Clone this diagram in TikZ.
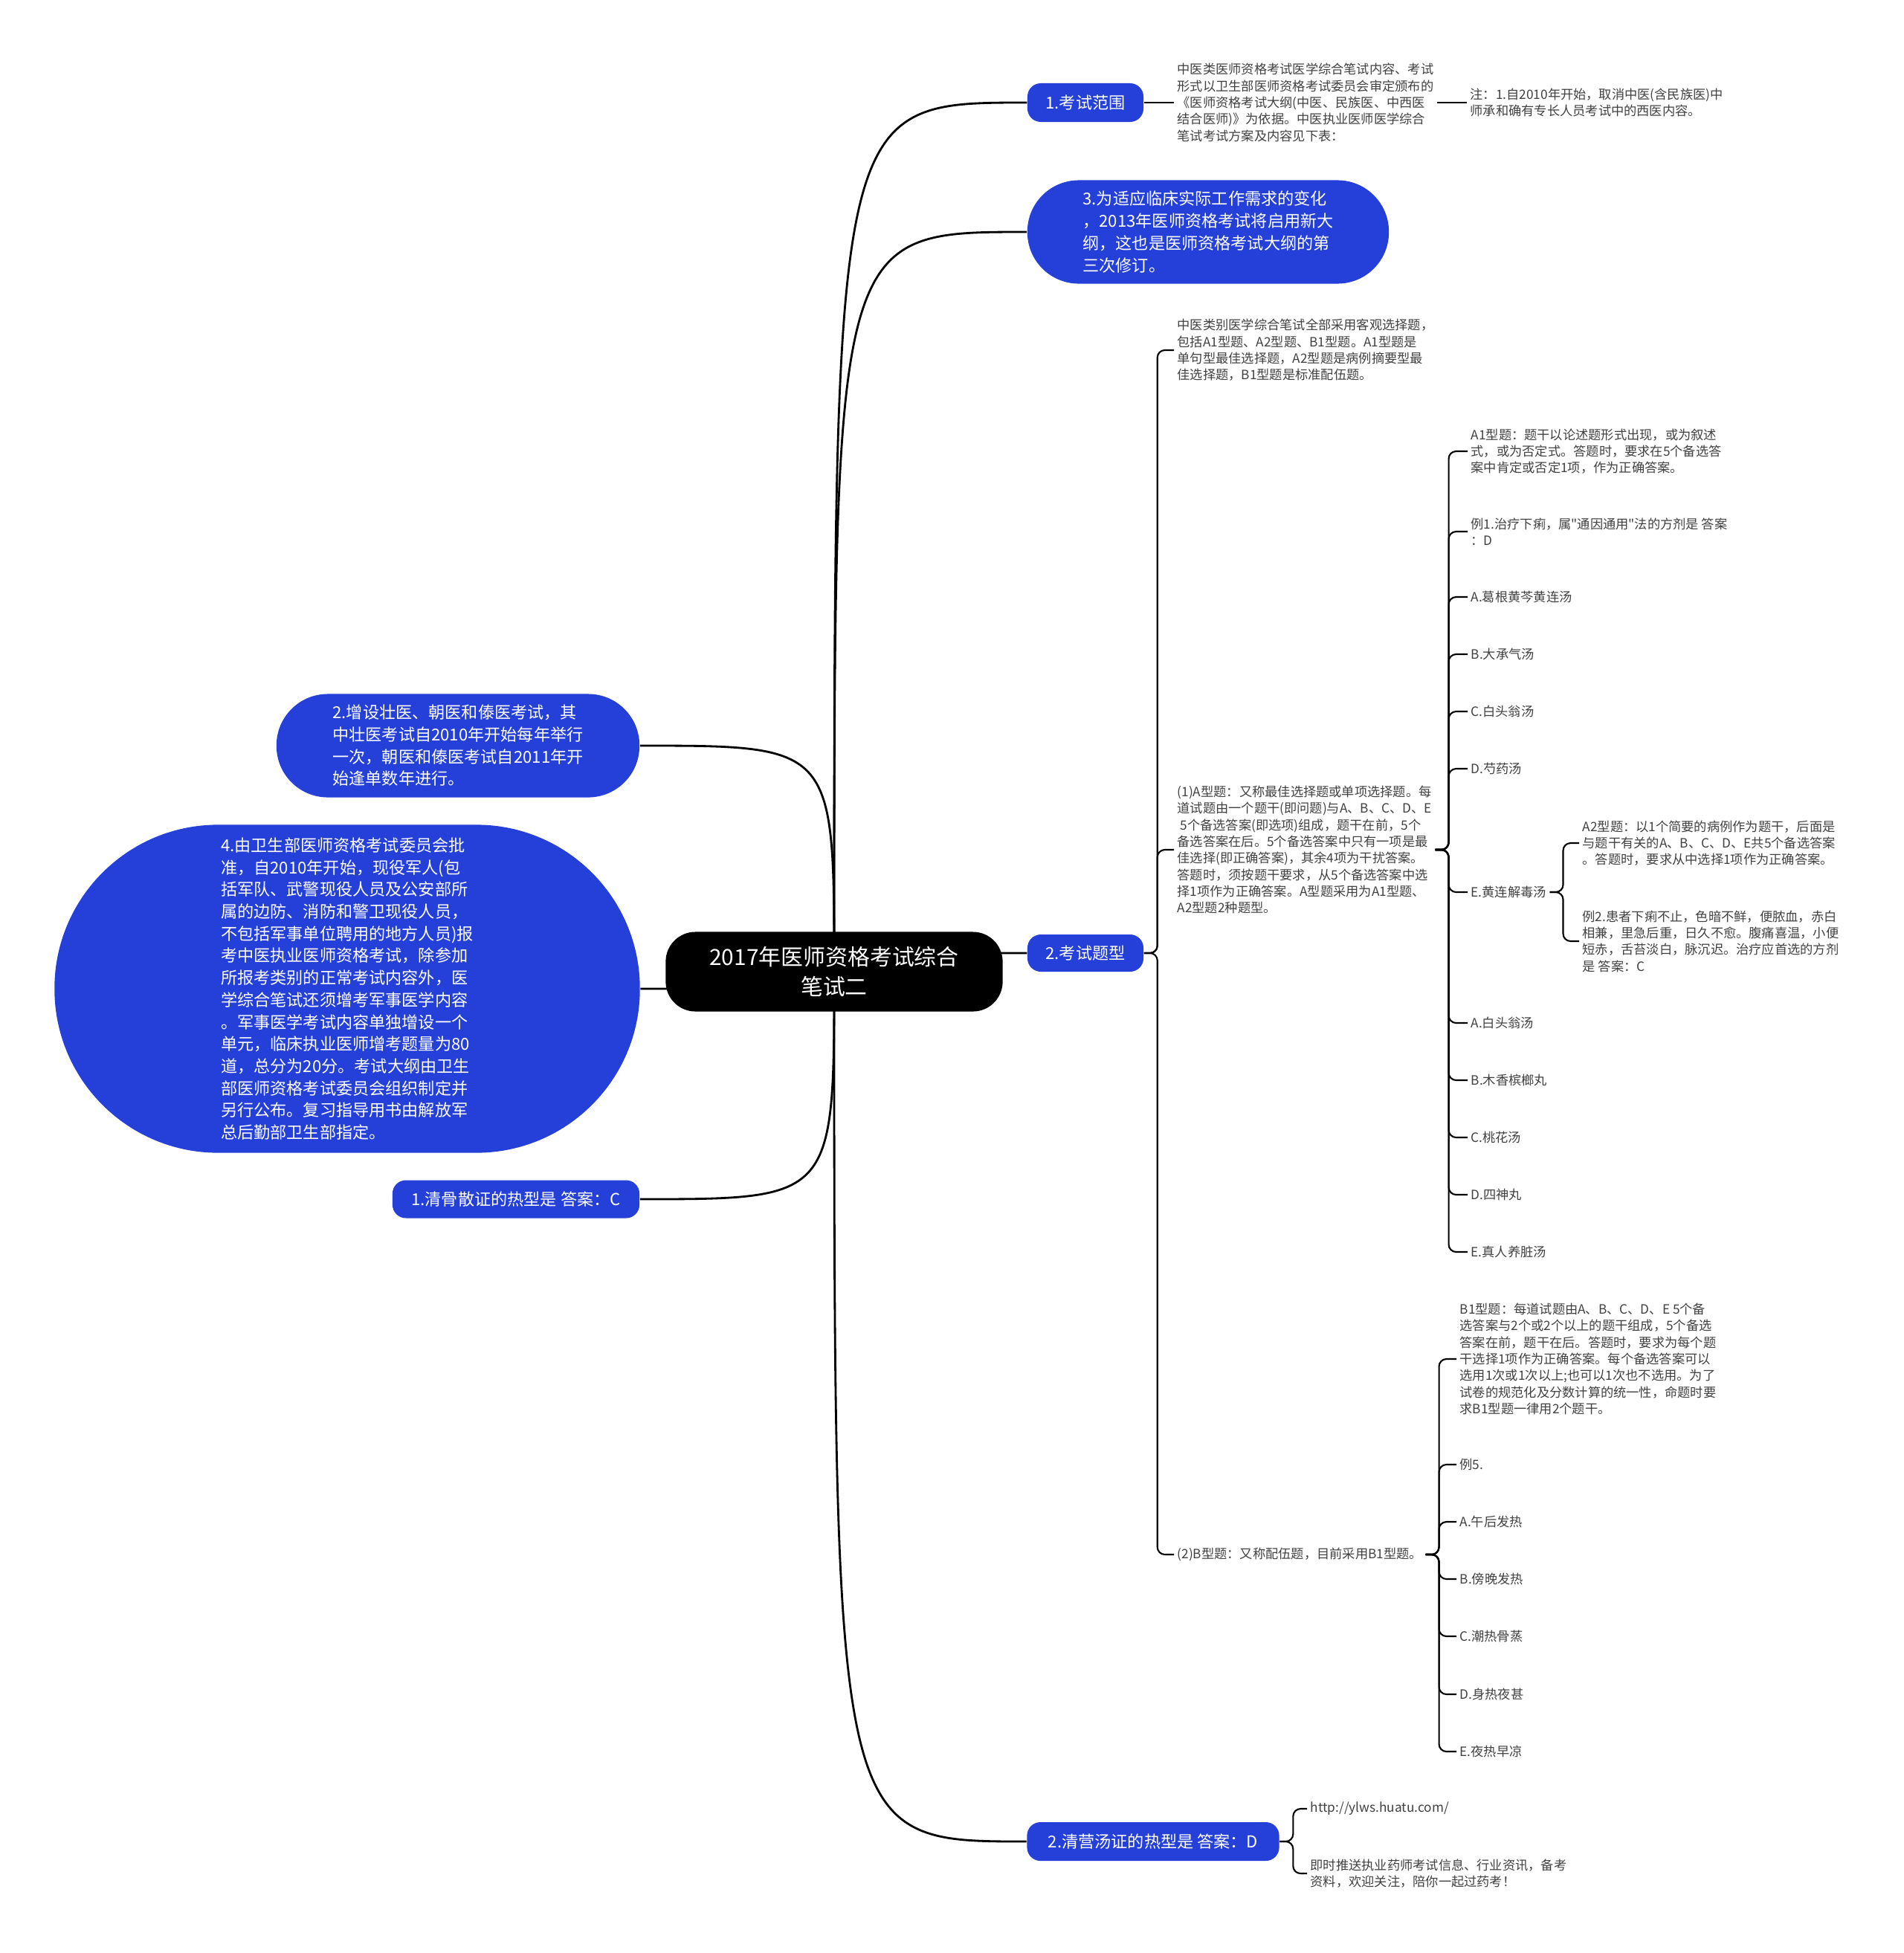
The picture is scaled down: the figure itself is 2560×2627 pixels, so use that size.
\documentclass[tikz,border=0pt]{standalone}
\usepackage{fontspec}
\setmainfont{Noto Sans CJK SC}[Ligatures=TeXOff]
\usetikzlibrary{positioning,backgrounds}
\definecolor{topicblue}{RGB}{36,64,216}
\definecolor{leafgray}{RGB}{64,64,64}
\newcommand{\rootfont}{\fontsize{8.5pt}{11.4pt}\selectfont}
\newcommand{\topicfont}{\fontsize{6.3pt}{8.45pt}\selectfont}
\newcommand{\leaffont}{\fontsize{4.9pt}{6.35pt}\selectfont}
\tikzset{
  rootbox/.style={fill=black, text=white, rounded corners=0.4cm, minimum width=4.53cm,
    minimum height=1.07cm, align=center, font=\rootfont, inner sep=0},
  topicbox/.style={fill=topicblue, text=white, rounded corners=0.18cm, align=left,
    font=\topicfont, inner sep=0},
  pillbox/.style={topicbox, rounded corners=0.69cm},
  leaf/.style={anchor=west, inner xsep=0.04cm, inner ysep=0.02cm, align=left,
    text=leafgray, font=\leaffont},
  trunk/.style={line width=0.8pt},
  twig/.style={line width=0.6pt, rounded corners=0.1cm}
}
\newcommand{\branch}[2]{\draw[twig] (#1.east) -- ++(18,0) |- (#2.west);}
\newcommand{\limb}[2]{\draw[trunk] (root.center) .. controls (root.center |- #1.#2) and (root.center |- #1.#2) .. (#1.#2);}

\begin{document}
\begin{tikzpicture}[x=0.01cm, y=-0.01cm]
\useasboundingbox (0,0) rectangle (2560,2627);

% centre
\node[rootbox] (root) at (1122,1307) {2017年医师资格考试综合\\笔试二};

% right side topics
\node[topicbox, minimum width=1.56cm, minimum height=0.52cm] (scope) at (1460,138) {1.考试范围};
\node[pillbox, minimum width=4.86cm, minimum height=1.39cm] (revise) at (1625,312)
  {3.为适应临床实际工作需求的变化\\，2013年医师资格考试将启用新大\\纲，这也是医师资格考试大纲的第\\三次修订。};
\node[topicbox, minimum width=1.56cm, minimum height=0.50cm] (types) at (1460,1282) {2.考试题型};
\node[topicbox, minimum width=3.39cm, minimum height=0.52cm] (qingying) at (1551,2477) {2.清营汤证的热型是 答案：D};

% left side topics
\node[pillbox, minimum width=4.88cm, minimum height=1.39cm] (newexam) at (616,1003)
  {2.增设壮医、朝医和傣医考试，其\\中壮医考试自2010年开始每年举行\\一次，朝医和傣医考试自2011年开\\始逢单数年进行。};
\node[topicbox, rounded corners=2.2cm, minimum width=7.87cm, minimum height=4.41cm] (army) at (467,1330)
  {4.由卫生部医师资格考试委员会批\\准，自2010年开始，现役军人(包\\括军队、武警现役人员及公安部所\\属的边防、消防和警卫现役人员，\\不包括军事单位聘用的地方人员)报\\考中医执业医师资格考试，除参加\\所报考类别的正常考试内容外，医\\学综合笔试还须增考军事医学内容\\。军事医学考试内容单独增设一个\\单元，临床执业医师增考题量为80\\道，总分为20分。考试大纲由卫生\\部医师资格考试委员会组织制定并\\另行公布。复习指导用书由解放军\\总后勤部卫生部指定。};
\node[topicbox, minimum width=3.32cm, minimum height=0.51cm] (qinggu) at (694,1613) {1.清骨散证的热型是 答案：C};

% exam scope
\node[leaf] (basis) at (1579,138)
  {中医类医师资格考试医学综合笔试内容、考试\\形式以卫生部医师资格考试委员会审定颁布的\\《医师资格考试大纲(中医、民族医、中西医\\结合医师)》为依据。中医执业医师医学综合\\笔试考试方案及内容见下表：};
\node[leaf] (note) at (1973,138)
  {注：1.自2010年开始，取消中医(含民族医)中\\师承和确有专长人员考试中的西医内容。};

% exam types
\node[leaf] (objective) at (1579,471)
  {中医类别医学综合笔试全部采用客观选择题，\\包括A1型题、A2型题、B1型题。A1型题是\\单句型最佳选择题，A2型题是病例摘要型最\\佳选择题，B1型题是标准配伍题。};
\node[leaf] (typeA) at (1579,1143)
  {(1)A型题：又称最佳选择题或单项选择题。每\\道试题由一个题干(即问题)与A、B、C、D、E\\\ 5个备选答案(即选项)组成，题干在前，5个\\备选答案在后。5个备选答案中只有一项是最\\佳选择(即正确答案)，其余4项为干扰答案。\\答题时，须按题干要求，从5个备选答案中选\\择1项作为正确答案。A型题采用为A1型题、\\A2型题2种题型。};
\node[leaf] (typeB) at (1579,2091) {(2)B型题：又称配伍题，目前采用B1型题。};

% A1
\node[leaf] (qA1) at (1974,607)
  {A1型题：题干以论述题形式出现，或为叙述\\式，或为否定式。答题时，要求在5个备选答\\案中肯定或否定1项，作为正确答案。};
\node[leaf] (ex1) at (1974,715) {例1.治疗下痢，属"通因通用"法的方剂是 答案\\：D};
\node[leaf] (op1a) at (1974,803) {A.葛根黄芩黄连汤};
\node[leaf] (op1b) at (1974,880) {B.大承气汤};
\node[leaf] (op1c) at (1974,957) {C.白头翁汤};
\node[leaf] (op1d) at (1974,1034) {D.芍药汤};
\node[leaf] (op1e) at (1974,1200) {E.黄连解毒汤};

% A2
\node[leaf] (qA2) at (2124,1134)
  {A2型题：以1个简要的病例作为题干，后面是\\与题干有关的A、B、C、D、E共5个备选答案\\。答题时，要求从中选择1项作为正确答案。};
\node[leaf] (ex2) at (2124,1266)
  {例2.患者下痢不止，色暗不鲜，便脓血，赤白\\相兼，里急后重，日久不愈。腹痛喜温，小便\\短赤，舌苔淡白，脉沉迟。治疗应首选的方剂\\是 答案：C};
\node[leaf] (op2a) at (1974,1376) {A.白头翁汤};
\node[leaf] (op2b) at (1974,1453) {B.木香槟榔丸};
\node[leaf] (op2c) at (1974,1530) {C.桃花汤};
\node[leaf] (op2d) at (1974,1607) {D.四神丸};
\node[leaf] (op2e) at (1974,1684) {E.真人养脏汤};

% B1
\node[leaf] (qB1) at (1959,1828)
  {B1型题：每道试题由A、B、C、D、E 5个备\\选答案与2个或2个以上的题干组成，5个备选\\答案在前，题干在后。答题时，要求为每个题\\干选择1项作为正确答案。每个备选答案可以\\选用1次或1次以上;也可以1次也不选用。为了\\试卷的规范化及分数计算的统一性，命题时要\\求B1型题一律用2个题干。};
\node[leaf] (ex5) at (1959,1970) {例5.};
\node[leaf] (op5a) at (1959,2047) {A.午后发热};
\node[leaf] (op5b) at (1959,2124) {B.傍晚发热};
\node[leaf] (op5c) at (1959,2201) {C.潮热骨蒸};
\node[leaf] (op5d) at (1959,2279) {D.身热夜甚};
\node[leaf] (op5e) at (1959,2356) {E.夜热早凉};

% links
\node[leaf] (url) at (1758,2433) {http://ylws.huatu.com/};
\node[leaf] (push) at (1758,2520)
  {即时推送执业药师考试信息、行业资讯，备考\\资料，欢迎关注，陪你一起过药考！};

\begin{scope}[on background layer]
\limb{scope}{west}
\limb{revise}{west}
\limb{types}{west}
\limb{qingying}{west}
\limb{newexam}{east}
\limb{army}{east}
\limb{qinggu}{east}
\end{scope}

\draw[twig] (scope) -- (basis);
\draw[twig] (basis) -- (note);
\branch{types}{objective}
\branch{types}{typeA}
\branch{types}{typeB}
\branch{typeA}{qA1}
\branch{typeA}{ex1}
\branch{typeA}{op1a}
\branch{typeA}{op1b}
\branch{typeA}{op1c}
\branch{typeA}{op1d}
\branch{typeA}{op1e}
\branch{typeA}{op2a}
\branch{typeA}{op2b}
\branch{typeA}{op2c}
\branch{typeA}{op2d}
\branch{typeA}{op2e}
\branch{op1e}{qA2}
\branch{op1e}{ex2}
\branch{typeB}{qB1}
\branch{typeB}{ex5}
\branch{typeB}{op5a}
\branch{typeB}{op5b}
\branch{typeB}{op5c}
\branch{typeB}{op5d}
\branch{typeB}{op5e}
\branch{qingying}{url}
\branch{qingying}{push}
\end{tikzpicture}
\end{document}
